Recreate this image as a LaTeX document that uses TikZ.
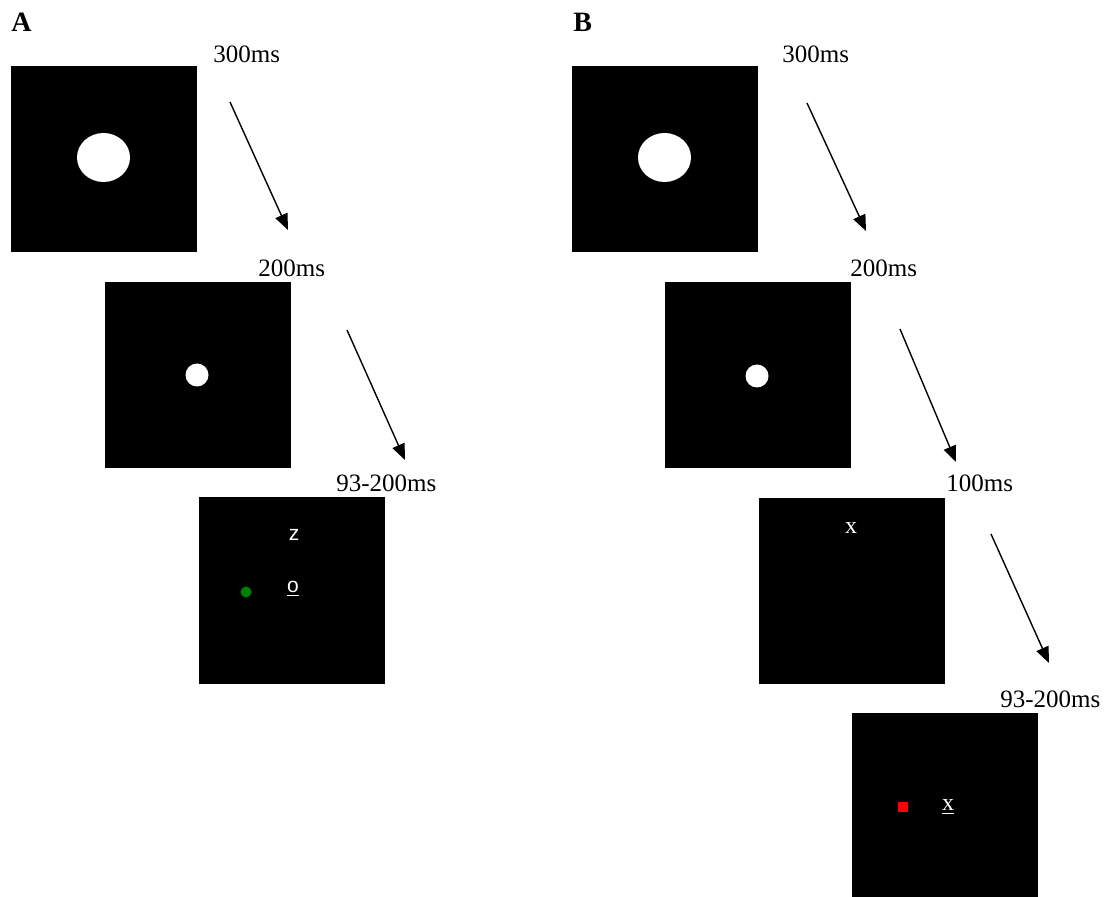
\documentclass[tikz,border=0pt]{standalone}
\usepackage{fontspec}
\setmainfont{Liberation Serif}
\setsansfont{Liberation Sans}
\usetikzlibrary{arrows.meta,shapes.geometric}
\tikzset{
  stim/.style={fill=black,draw=none,minimum width=93pt,minimum height=93pt,inner sep=0pt},
  lbl/.style={anchor=base west,inner sep=0pt,font=\fontsize{12.5}{14}\selectfont},
  panel/.style={anchor=base west,inner sep=0pt,font=\fontsize{14}{16}\selectfont\bfseries},
  seq/.style={-{Triangle[length=8pt,width=6.5pt]},line width=0.7pt},
  letter/.style={text=white,inner sep=0pt,font=\fontsize{12}{14}\selectfont},
  sletter/.style={text=white,inner sep=0pt,font=\fontsize{10.5}{12}\selectfont\sffamily},
  blob/.style={fill=white,draw=none,inner sep=0pt}
}
\begin{document}
\begin{tikzpicture}[x=0.5pt,y=-0.5pt]
\useasboundingbox (0,0) rectangle (1108,897);
% ---------- Panel A ----------
\node[panel] (pA) at (11,32) {A};
\node[stim] (A1) at (104,159.5) {};
\node[stim] (A2) at (197.5,375) {};
\node[stim] (A3) at (292,590.5) {};
\node[blob,ellipse,minimum width=26.5pt,minimum height=24.5pt] (A1e) at (103.5,157.5) {};
\node[blob,circle,minimum size=11.5pt] (A2d) at (197,375) {};
\node[fill={rgb,255:red,0;green,128;blue,0},circle,inner sep=0pt,minimum size=5.5pt] (A3g) at (246,592) {};
\node[sletter] (A3z) at (294,535) {z};
\node[sletter] (A3o) at (293,589) {\underline{o}};
\node[lbl] (tA1) at (213,63) {300ms};
\node[lbl] (tA2) at (258,277) {200ms};
\node[lbl] (tA3) at (336,492) {93-200ms};
\coordinate (a1s) at (230,102); \coordinate (a1e) at (288,230);
\coordinate (a2s) at (347,330); \coordinate (a2e) at (405,460);
\draw[seq] (a1s) -- (a1e);
\draw[seq] (a2s) -- (a2e);
% ---------- Panel B ----------
\node[panel] (pB) at (573,32) {B};
\node[stim] (B1) at (665,159.5) {};
\node[stim] (B2) at (758,375) {};
\node[stim] (B3) at (852,591) {};
\node[stim] (B4) at (945,806) {};
\node[blob,ellipse,minimum width=26.5pt,minimum height=24.5pt] (B1e) at (664.5,157.5) {};
\node[blob,circle,minimum size=11.5pt] (B2d) at (757,376) {};
\node[letter] (B3x) at (851,528) {x};
\node[fill=red,inner sep=0pt,minimum size=5pt] (B4r) at (903,806.5) {};
\node[letter] (B4x) at (948,807) {\underline{x}};
\node[lbl] (tB1) at (782,63) {300ms};
\node[lbl] (tB2) at (850,277) {200ms};
\node[lbl] (tB3) at (946,492) {100ms};
\node[lbl] (tB4) at (1000,707) {93-200ms};
\coordinate (b1s) at (807,103); \coordinate (b1e) at (866,231);
\coordinate (b2s) at (900,329); \coordinate (b2e) at (956,462);
\coordinate (b3s) at (991,534); \coordinate (b3e) at (1049,663);
\draw[seq] (b1s) -- (b1e);
\draw[seq] (b2s) -- (b2e);
\draw[seq] (b3s) -- (b3e);
\end{tikzpicture}
\end{document}
